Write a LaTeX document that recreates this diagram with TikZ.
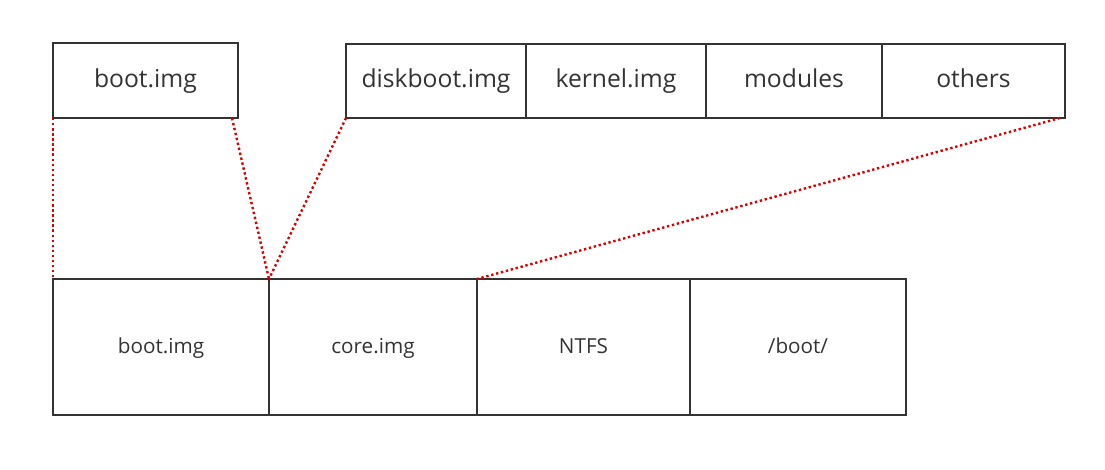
\documentclass[tikz,border=0pt]{standalone}
\usepackage{fontspec}
\setmainfont{Open Sans}
\begin{document}
\begin{tikzpicture}[x=0.75pt,y=-0.75pt,
  box/.style={draw=black!80, line width=1.7pt, inner sep=0pt, outer sep=0pt, text=black!80, text height=2.2ex, text depth=0.3ex},
  topbox/.style={box, minimum height={74*0.75pt}, font=\fontsize{18.5}{20}\selectfont},
  botbox/.style={box, minimum height={136*0.75pt}, font=\fontsize{15.5}{17}\selectfont},
  link/.style={red!85!black, line width=1.8pt, dotted}]
\useasboundingbox (0,0) rectangle (1105,469);
\node[topbox, minimum width={185*0.75pt}, minimum height={75*0.75pt}] (tboot) at (145.5,80.5) {boot.img};
\node[topbox, minimum width={180*0.75pt}] (disk) at (436,81) {diskboot.img};
\node[topbox, minimum width={180*0.75pt}] (kern) at (616,81) {kernel.img};
\node[topbox, minimum width={176*0.75pt}] (mods) at (794,81) {modules};
\node[topbox, minimum width={183*0.75pt}] (oth) at (973.5,81) {others};
\node[botbox, minimum width={216*0.75pt}] (bboot) at (161,347) {boot.img};
\node[botbox, minimum width={208*0.75pt}] (core) at (373,347) {core.img};
\node[botbox, minimum width={213*0.75pt}] (ntfs) at (583.5,347) {NTFS};
\node[botbox, minimum width={216*0.75pt}] (bdir) at (798,347) {/boot/};
\draw[link] (tboot.south west) -- (bboot.north west);
\draw[link] ([xshift=-4.5pt]tboot.south east) -- (core.north west);
\draw[link] (disk.south west) -- (core.north west);
\draw[link] ([xshift=-3.75pt]oth.south east) -- (ntfs.north west);
\end{tikzpicture}
\end{document}
